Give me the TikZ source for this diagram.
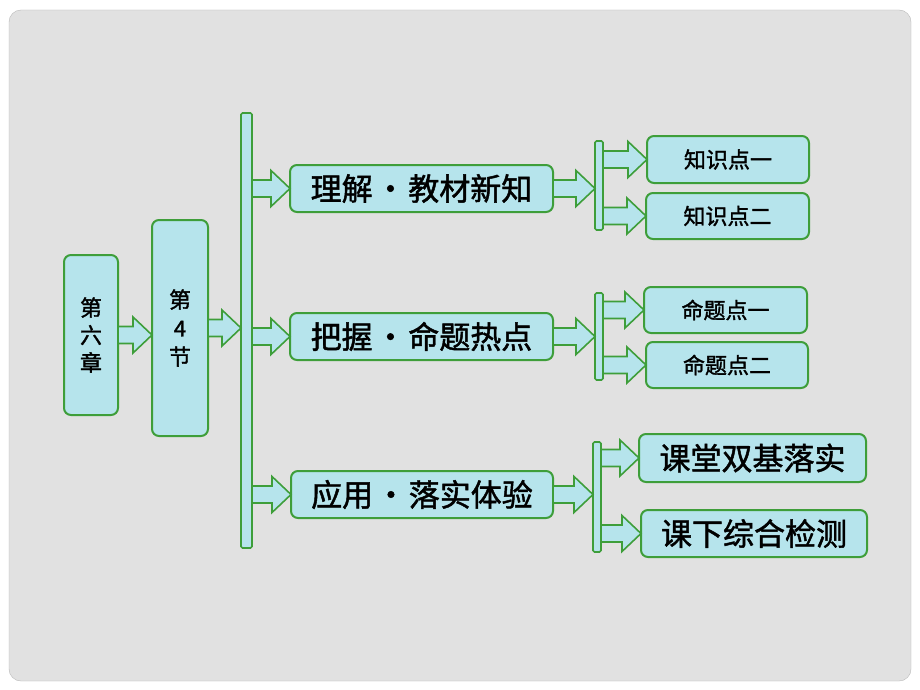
\documentclass[tikz,border=0pt]{standalone}
\usepackage{fontspec}
\setmainfont[FakeBold=1.5,AutoFakeBold=1.5]{Noto Sans CJK SC}
\usetikzlibrary{calc}
\definecolor{boxline}{RGB}{62,158,58}
\definecolor{boxfill}{RGB}{182,228,236}
\definecolor{pagegray}{RGB}{225,225,225}
\tikzset{
	box/.style={draw=boxline, fill=boxfill, line width=2pt, rounded corners=7pt, inner sep=0pt, outer sep=0pt, text=black, font=\bfseries},
	barbox/.style={draw=boxline, fill=boxfill, line width=1.6pt, rounded corners=1.5pt, inner sep=0pt, outer sep=0pt},
	fat/.style={draw=boxline, fill=boxfill, line width=1.6pt, line join=miter}
}
\newcommand{\fatarrow}[2]{%
	\path[fat] let \p1=(#1), \p2=(#2) in
	(\x1,{\y1+8.5pt}) -- ({\x2-19pt},{\y1+8.5pt}) -- ({\x2-19pt},{\y1+18pt}) -- (\x2,\y1)
	-- ({\x2-19pt},{\y1-18pt}) -- ({\x2-19pt},{\y1-8.5pt}) -- (\x1,{\y1-8.5pt}) -- cycle;}
\newcommand{\middot}{\makebox[1.15em]{•}}
\begin{document}
\begin{tikzpicture}[x=1pt,y=-1pt]
	\useasboundingbox (0,0) rectangle (920,690);
	\fill[white] (0,0) rectangle (920,690);
	\draw[gray!55, fill=pagegray, rounded corners=12pt] (9,10) rectangle (911,681);
	\node[box, minimum width=54pt, minimum height=160pt, align=center, font=\fontsize{22}{27.5}\selectfont\bfseries] (chap) at (91,335) {第\\六\\章};
	\node[box, minimum width=56pt, minimum height=216pt, align=center, font=\fontsize{22}{28.5}\selectfont\bfseries] (sec) at (180,328) {第\\4\\节};
	\node[barbox, minimum width=11pt, minimum height=435pt] (bar) at (246.5,330.5) {};
	\node[box, minimum width=263pt, minimum height=47pt, font=\fontsize{31}{31}\selectfont\bfseries] (know) at (421.5,188.5) {理解\middot 教材新知};
	\node[box, minimum width=263pt, minimum height=47pt, font=\fontsize{31}{31}\selectfont\bfseries] (hot) at (421.5,336.5) {把握\middot 命题热点};
	\node[box, minimum width=262pt, minimum height=47pt, font=\fontsize{31}{31}\selectfont\bfseries] (apply) at (422,494.5) {应用\middot 落实体验};
	\node[barbox, minimum width=8pt, minimum height=89pt] (sbar1) at (599,185.5) {};
	\node[barbox, minimum width=8pt, minimum height=87pt] (sbar2) at (599,336.5) {};
	\node[barbox, minimum width=8pt, minimum height=110pt] (sbar3) at (597,497) {};
	\node[box, minimum width=162pt, minimum height=47pt, font=\fontsize{22}{22}\selectfont\bfseries] (kp1) at (728,159.5) {知识点一};
	\node[box, minimum width=163pt, minimum height=46pt, font=\fontsize{22}{22}\selectfont\bfseries] (kp2) at (727.5,216) {知识点二};
	\node[box, minimum width=163pt, minimum height=46pt, font=\fontsize{22}{22}\selectfont\bfseries] (tp1) at (725.5,310) {命题点一};
	\node[box, minimum width=162pt, minimum height=46pt, font=\fontsize{22}{22}\selectfont\bfseries] (tp2) at (727,365) {命题点二};
	\node[box, minimum width=227pt, minimum height=48pt, font=\fontsize{31}{31}\selectfont\bfseries] (class) at (752.5,458) {课堂双基落实};
	\node[box, minimum width=226pt, minimum height=47pt, font=\fontsize{31}{31}\selectfont\bfseries] (after) at (754,533.5) {课下综合检测};
	\fatarrow{chap.east}{sec.west |- chap.east}
	\fatarrow{sec.east}{bar.west |- sec.east}
	\fatarrow{bar.east |- know.west}{know.west}
	\fatarrow{bar.east |- hot.west}{hot.west}
	\fatarrow{bar.east |- apply.west}{apply.west}
	\fatarrow{know.east}{sbar1.west |- know.east}
	\fatarrow{hot.east}{sbar2.west |- hot.east}
	\fatarrow{apply.east}{sbar3.west |- apply.east}
	\fatarrow{sbar1.east |- kp1.west}{kp1.west}
	\fatarrow{sbar1.east |- kp2.west}{kp2.west}
	\fatarrow{sbar2.east |- tp1.west}{tp1.west}
	\fatarrow{sbar2.east |- tp2.west}{tp2.west}
	\fatarrow{sbar3.east |- class.west}{class.west}
	\fatarrow{sbar3.east |- after.west}{after.west}
\end{tikzpicture}
\end{document}
